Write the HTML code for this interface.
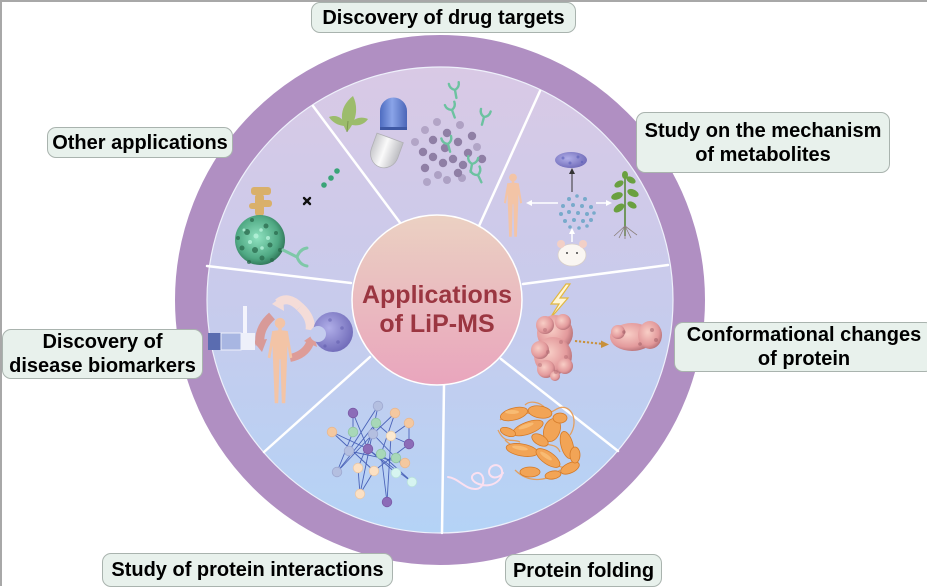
<!DOCTYPE html>
<html><head><meta charset="utf-8">
<style>
html,body{margin:0;padding:0;}
body{width:927px;height:586px;position:relative;overflow:hidden;background:#fff;font-family:"Liberation Sans",Arial,sans-serif;}
svg{position:absolute;left:0;top:0;}
.lb{position:absolute;box-sizing:border-box;background:#e8f1ec;border:1.3px solid #a9b3ae;border-radius:9px;font-weight:bold;font-size:20px;line-height:24px;color:#000;text-align:center;display:flex;flex-direction:column;justify-content:center;align-items:center;white-space:nowrap;}
</style></head><body>
<svg width="927" height="586" viewBox="0 0 927 586">
<defs>
  <linearGradient id="disk" x1="0" y1="0" x2="0" y2="1">
    <stop offset="0" stop-color="#d9c9e5"/>
    <stop offset="0.5" stop-color="#c8cbec"/>
    <stop offset="1" stop-color="#b4d3f6"/>
  </linearGradient>
  <linearGradient id="ctr" x1="0" y1="0" x2="0" y2="1">
    <stop offset="0" stop-color="#ebd1c2"/>
    <stop offset="1" stop-color="#e9a5bd"/>
  </linearGradient>
  <linearGradient id="blueCap" x1="0" y1="0" x2="1" y2="0">
    <stop offset="0" stop-color="#4e6cc0"/>
    <stop offset="0.45" stop-color="#8aa4e8"/>
    <stop offset="1" stop-color="#4b66b8"/>
  </linearGradient>
  <linearGradient id="whiteCap" x1="0" y1="0" x2="1" y2="0">
    <stop offset="0" stop-color="#c8c8cc"/>
    <stop offset="0.45" stop-color="#fafafa"/>
    <stop offset="1" stop-color="#bdbdc2"/>
  </linearGradient>
  <radialGradient id="greenBlob" cx="0.45" cy="0.45" r="0.6">
    <stop offset="0" stop-color="#8fe2c0"/>
    <stop offset="0.7" stop-color="#4fa883"/>
    <stop offset="1" stop-color="#2a6d50"/>
  </radialGradient>
  <radialGradient id="pinkBlob" cx="0.4" cy="0.4" r="0.65">
    <stop offset="0" stop-color="#f8cec6"/>
    <stop offset="0.7" stop-color="#e39a9c"/>
    <stop offset="1" stop-color="#b46f76"/>
  </radialGradient>
  <radialGradient id="purpBlob" cx="0.4" cy="0.4" r="0.65">
    <stop offset="0" stop-color="#b0aee8"/>
    <stop offset="1" stop-color="#6f6ab8"/>
  </radialGradient>
  <g id="human">
    <circle cx="0" cy="7" r="6"/>
    <rect x="-2" y="12" width="4" height="5"/>
    <path d="M-9,16 Q0,14 9,16 L8,48 L-8,48 Z"/>
    <path d="M-9,17 L-14,46 L-11,47 L-7,24 Z"/>
    <path d="M9,17 L14,46 L11,47 L7,24 Z"/>
    <path d="M-8,47 L-0.5,47 L-2,98 L-6,98 Z"/>
    <path d="M0.5,47 L8,47 L6,98 L2,98 Z"/>
  </g>
</defs>

<!-- frame -->
<line x1="0" y1="1" x2="927" y2="1" stroke="#a8a8a8" stroke-width="2"/>
<line x1="1" y1="0" x2="1" y2="586" stroke="#a8a8a8" stroke-width="2"/>

<!-- ring and disk -->
<circle cx="440" cy="300" r="249" fill="none" stroke="#b08fc2" stroke-width="32"/>
<circle cx="440" cy="300" r="233" fill="url(#disk)" stroke="#eef0fb" stroke-width="1.2"/>

<!-- dividers -->
<g stroke="#ffffff" stroke-width="2.5" stroke-linecap="round">
  <line x1="313" y1="106" x2="401" y2="224"/>
  <line x1="540" y1="91" x2="479" y2="226"/>
  <line x1="668" y1="265" x2="523" y2="284"/>
  <line x1="207" y1="266" x2="351" y2="283"/>
  <line x1="370" y1="357" x2="264" y2="452"/>
  <line x1="444" y1="385" x2="442" y2="533"/>
  <line x1="501" y1="359" x2="618" y2="451"/>
</g>

<!-- ===== Drug targets sector ===== -->
<g fill="#9cbc6c">
  <path d="M347,132 C339,120 340,106 353,96 C359,108 356,122 347,132Z"/>
  <path d="M346,126 C338,126 332,122 329,117 C337,114 343,118 346,126Z"/>
  <path d="M349,124 C355,118 361,116 368,119 C364,125 356,127 349,124Z"/>
</g>
<line x1="347" y1="132" x2="348" y2="121" stroke="#7a9650" stroke-width="1"/>
<path d="M380,130 L380,111 A13.5,13.5 0 0 1 407,111 L407,130 Z" fill="url(#blueCap)"/>
<rect x="380" y="127" width="27" height="3" fill="#3e58a4"/>
<g transform="rotate(20 385 152)">
  <path d="M371,137 L399,137 L399,153 A14,15 0 0 1 371,153 Z" fill="url(#whiteCap)" stroke="#b0b0b4" stroke-width="0.8"/>
</g>
<g fill="#8f7fa5">
  <circle cx="437" cy="122" r="4" opacity="0.5"/>
  <circle cx="460" cy="125" r="4" opacity="0.55"/>
  <circle cx="425" cy="130" r="4" opacity="0.5"/>
  <circle cx="447" cy="133" r="4.2"/>
  <circle cx="472" cy="136" r="4.2"/>
  <circle cx="415" cy="142" r="4" opacity="0.5"/>
  <circle cx="433" cy="140" r="4.2"/>
  <circle cx="458" cy="142" r="4.2"/>
  <circle cx="477" cy="147" r="4" opacity="0.5"/>
  <circle cx="423" cy="152" r="4.2"/>
  <circle cx="445" cy="148" r="4.2"/>
  <circle cx="468" cy="153" r="4.2"/>
  <circle cx="482" cy="159" r="4.2"/>
  <circle cx="433" cy="157" r="4.2"/>
  <circle cx="453" cy="159" r="4.2"/>
  <circle cx="425" cy="168" r="4.2"/>
  <circle cx="443" cy="163" r="4.2"/>
  <circle cx="463" cy="165" r="4.2"/>
  <circle cx="438" cy="175" r="4" opacity="0.55"/>
  <circle cx="458" cy="173" r="4.2"/>
  <circle cx="427" cy="182" r="4" opacity="0.5"/>
  <circle cx="447" cy="180" r="4" opacity="0.55"/>
  <circle cx="462" cy="178" r="4" opacity="0.55"/>
</g>
<g stroke="#6cc2a0" stroke-width="2.4" fill="none" stroke-linecap="round">
  <g transform="translate(455,90) rotate(-10)"><path d="M0,8 L0,0 M0,0 Q-5,-2 -5,-7 M0,0 Q5,-2 5,-7"/></g>
  <g transform="translate(452,110) rotate(-20)"><path d="M0,8 L0,0 M0,0 Q-5,-2 -5,-7 M0,0 Q5,-2 5,-7"/></g>
  <g transform="translate(484,117) rotate(15)"><path d="M0,8 L0,0 M0,0 Q-5,-2 -5,-7 M0,0 Q5,-2 5,-7"/></g>
  <g transform="translate(448,144) rotate(-15)"><path d="M0,8 L0,0 M0,0 Q-5,-2 -5,-7 M0,0 Q5,-2 5,-7"/></g>
  <g transform="translate(472,164) rotate(10)"><path d="M0,8 L0,0 M0,0 Q-5,-2 -5,-7 M0,0 Q5,-2 5,-7"/></g>
  <g transform="translate(478,175) rotate(-25)"><path d="M0,8 L0,0 M0,0 Q-5,-2 -5,-7 M0,0 Q5,-2 5,-7"/></g>
</g>

<!-- ===== Other applications sector ===== -->
<g fill="#d9b06a">
  <rect x="251" y="187" width="20" height="8" rx="3"/>
  <rect x="255" y="194" width="9" height="22" rx="3"/>
  <rect x="261" y="200" width="11" height="7" rx="3"/>
  <rect x="249" y="203" width="9" height="6" rx="3"/>
</g>
<circle cx="260" cy="240" r="25" fill="url(#greenBlob)"/>
<g fill="#2a6a4d" opacity="0.75">
  <circle cx="247" cy="232" r="3"/><circle cx="266" cy="226" r="2.5"/><circle cx="255" cy="250" r="3"/>
  <circle cx="270" cy="245" r="2.5"/><circle cx="242" cy="248" r="2.5"/><circle cx="262" cy="258" r="2.5"/>
  <circle cx="276" cy="233" r="2"/><circle cx="252" cy="220" r="2"/><circle cx="238" cy="238" r="2"/>
  <circle cx="280" cy="250" r="2"/><circle cx="249" cy="262" r="2"/><circle cx="272" cy="260" r="2"/>
</g>
<g fill="#b8f4dc" opacity="0.8">
  <circle cx="256" cy="236" r="2.5"/><circle cx="268" cy="238" r="2"/><circle cx="250" cy="242" r="2"/><circle cx="261" cy="230" r="1.8"/>
  <circle cx="262" cy="248" r="1.8"/><circle cx="244" cy="230" r="1.5"/>
</g>
<path d="M283,250 L297,257 M297,257 Q300,249 307,248 M297,257 Q300,265 307,266" stroke="#7ec8a8" stroke-width="3" fill="none" stroke-linecap="round"/>
<g stroke="#111" stroke-width="2.4" stroke-linecap="round">
  <line x1="304" y1="198" x2="310" y2="204"/><line x1="310" y1="198" x2="304" y2="204"/>
</g>
<g fill="#3aa478">
  <circle cx="324" cy="185" r="2.8"/><circle cx="331" cy="178" r="2.8"/><circle cx="337" cy="171" r="2.8"/>
</g>

<!-- ===== Metabolites sector ===== -->
<use href="#human" transform="translate(513,173) scale(0.65)" fill="#f3c4a6"/>
<ellipse cx="571" cy="160" rx="16" ry="8" fill="url(#purpBlob)"/>
<g fill="#5a5fb8" opacity="0.6"><circle cx="563" cy="158" r="1.5"/><circle cx="570" cy="163" r="1.5"/><circle cx="578" cy="157" r="1.5"/><circle cx="582" cy="162" r="1.2"/></g>
<line x1="572" y1="192" x2="572" y2="171" stroke="#333" stroke-width="1"/>
<path d="M569,174 L572,168 L575,174 Z" fill="#333"/>
<g fill="#78aacb">
  <circle cx="577" cy="196" r="1.8"/><circle cx="569" cy="199" r="2"/><circle cx="585" cy="199" r="2"/>
  <circle cx="563" cy="206" r="2"/><circle cx="573" cy="205" r="2"/><circle cx="582" cy="206" r="2"/><circle cx="591" cy="207" r="2"/>
  <circle cx="561" cy="214" r="2"/><circle cx="569" cy="212" r="2"/><circle cx="578" cy="213" r="2"/><circle cx="587" cy="214" r="2"/><circle cx="594" cy="213" r="1.8"/>
  <circle cx="565" cy="221" r="2"/><circle cx="574" cy="220" r="2"/><circle cx="583" cy="221" r="2"/><circle cx="591" cy="220" r="2"/>
  <circle cx="570" cy="227" r="1.8"/><circle cx="579" cy="228" r="1.8"/><circle cx="587" cy="226" r="1.8"/>
</g>
<g stroke="#ffffff" stroke-width="1.5" fill="#fff">
  <line x1="531" y1="203" x2="558" y2="203"/><path d="M526,203 L532,200 L532,206 Z" stroke="none"/>
  <line x1="596" y1="203" x2="607" y2="203"/><path d="M612,203 L606,200 L606,206 Z" stroke="none"/>
  <line x1="572" y1="242" x2="572" y2="232"/><path d="M572,228 L569,234 L575,234 Z" stroke="none"/>
</g>
<line x1="625" y1="236" x2="625" y2="174" stroke="#5a8a3a" stroke-width="1.6"/>
<g fill="#6aa040">
  <ellipse cx="619" cy="184" rx="5" ry="3" transform="rotate(-30 619 184)"/>
  <ellipse cx="631" cy="180" rx="5" ry="3" transform="rotate(30 631 180)"/>
  <ellipse cx="617" cy="196" rx="6" ry="3.5" transform="rotate(-20 617 196)"/>
  <ellipse cx="633" cy="193" rx="6" ry="3.5" transform="rotate(25 633 193)"/>
  <ellipse cx="619" cy="208" rx="6" ry="3.5" transform="rotate(-35 619 208)"/>
  <ellipse cx="632" cy="205" rx="5" ry="3" transform="rotate(30 632 205)"/>
  <ellipse cx="625" cy="175" rx="3" ry="4"/>
</g>
<g stroke="#8a7f7a" stroke-width="0.8" fill="none">
  <path d="M625,226 L614,236 M625,226 L619,238 M625,226 L625,239 M625,226 L631,238 M625,226 L637,235"/>
</g>
<ellipse cx="572" cy="255" rx="14" ry="11" fill="#faf6f2" stroke="#d8cfc8" stroke-width="0.8"/>
<circle cx="561" cy="244" r="4" fill="#f2cfc6"/><circle cx="583" cy="244" r="4" fill="#f2cfc6"/>
<circle cx="567" cy="253" r="1" fill="#444"/><circle cx="577" cy="253" r="1" fill="#444"/>

<!-- ===== Conformational changes sector ===== -->
<path d="M566,284 L551,304 L559,304 L549,320 L568,298 L560,298 L570,284 Z" fill="#fff6d8" stroke="#e2b840" stroke-width="1.2"/>
<g fill="url(#pinkBlob)">
  <circle cx="555" cy="333" r="18"/>
  <circle cx="545" cy="325" r="9"/>
  <circle cx="563" cy="322" r="8"/>
  <circle cx="553" cy="356" r="19"/>
  <circle cx="540" cy="350" r="9"/>
  <circle cx="546" cy="369" r="9"/>
  <circle cx="565" cy="366" r="8"/>
  <circle cx="555" cy="376" r="5"/>
</g>
<g fill="#b06870" opacity="0.45">
  <circle cx="545" cy="330" r="2"/><circle cx="561" cy="342" r="2"/><circle cx="548" cy="352" r="2"/><circle cx="566" cy="357" r="2"/><circle cx="540" cy="365" r="2"/><circle cx="556" cy="372" r="2"/>
</g>
<line x1="575" y1="341" x2="603" y2="344" stroke="#c8903a" stroke-width="2" stroke-dasharray="2.2,1.8"/>
<path d="M609,344.5 L601,340.5 L601,348 Z" fill="#c8903a"/>
<g fill="url(#pinkBlob)">
  <ellipse cx="632" cy="337" rx="22" ry="14"/>
  <ellipse cx="650" cy="335" rx="12" ry="14"/>
  <circle cx="618" cy="332" r="7"/>
</g>
<g fill="#9c5a62" opacity="0.5"><circle cx="652" cy="330" r="2"/><circle cx="656" cy="340" r="2"/><circle cx="640" cy="344" r="1.8"/><circle cx="624" cy="332" r="1.8"/></g>

<!-- ===== Biomarkers sector ===== -->
<path d="M300,307 Q288,295 278,303" stroke="#f4dcd8" stroke-width="9" fill="none"/>
<path d="M283,296 L272,304 L284,311 Z" fill="#f4dcd8"/>
<path d="M300,307 Q312,318 310,330" stroke="#f4dcd8" stroke-width="9" fill="none"/>
<path d="M272,316 Q258,328 260,345" stroke="#d89a98" stroke-width="9" fill="none"/>
<path d="M253,341 L262,352 L267,339 Z" fill="#d89a98"/>
<path d="M290,358 Q305,355 310,343" stroke="#dd9c98" stroke-width="8" fill="none"/>
<path d="M304,341 L314,334 L317,347 Z" fill="#dd9c98"/>
<rect x="243" y="306" width="4" height="27" fill="#f4f4fc"/>
<rect x="208" y="333" width="13" height="17" fill="#5a6cb0"/>
<rect x="221" y="333" width="20" height="17" fill="#a8b6e2" stroke="#eef0fb" stroke-width="1"/>
<rect x="241" y="333" width="14" height="17" fill="#eef0fa"/>
<use href="#human" transform="translate(280,317) scale(0.88)" fill="#f3c4a6"/>
<circle cx="333" cy="332" r="20" fill="url(#purpBlob)"/>
<circle cx="318" cy="334" r="8" fill="#c4ccee"/>
<g fill="#5a56a8" opacity="0.45"><circle cx="330" cy="320" r="1.8"/><circle cx="342" cy="328" r="1.8"/><circle cx="338" cy="342" r="1.8"/><circle cx="325" cy="346" r="1.6"/></g>

<!-- ===== Network ===== -->
<g stroke="#4a62b8" stroke-width="0.9">
  <line x1="353" y1="413" x2="368" y2="449"/>
  <line x1="353" y1="413" x2="353" y2="432"/>
  <line x1="378" y1="406" x2="349" y2="451"/>
  <line x1="378" y1="406" x2="360" y2="494"/>
  <line x1="395" y1="413" x2="381" y2="454"/>
  <line x1="395" y1="413" x2="373" y2="434"/>
  <line x1="409" y1="423" x2="391" y2="436"/>
  <line x1="332" y1="432" x2="368" y2="449"/>
  <line x1="332" y1="432" x2="374" y2="471"/>
  <line x1="353" y1="432" x2="337" y2="472"/>
  <line x1="376" y1="423" x2="391" y2="436"/>
  <line x1="376" y1="423" x2="358" y2="468"/>
  <line x1="373" y1="434" x2="396" y2="458"/>
  <line x1="391" y1="436" x2="409" y2="444"/>
  <line x1="391" y1="436" x2="387" y2="502"/>
  <line x1="409" y1="444" x2="374" y2="471"/>
  <line x1="349" y1="451" x2="405" y2="463"/>
  <line x1="368" y1="449" x2="396" y2="473"/>
  <line x1="368" y1="449" x2="412" y2="482"/>
  <line x1="381" y1="454" x2="412" y2="482"/>
  <line x1="396" y1="458" x2="405" y2="463"/>
  <line x1="358" y1="468" x2="360" y2="494"/>
  <line x1="374" y1="471" x2="360" y2="494"/>
  <line x1="337" y1="472" x2="376" y2="423"/>
  <line x1="381" y1="454" x2="387" y2="502"/>
  <line x1="409" y1="423" x2="409" y2="444"/>
  <line x1="373" y1="434" x2="337" y2="472"/>
</g>
<g stroke-width="0.8">
  <circle cx="353" cy="413" r="4.8" fill="#8c6cb8" stroke="#7a5aa6"/>
  <circle cx="378" cy="406" r="4.8" fill="#b4bfe0" stroke="#9ea8d0"/>
  <circle cx="395" cy="413" r="4.8" fill="#f4c8a0" stroke="#e8b890"/>
  <circle cx="409" cy="423" r="4.8" fill="#f4c8a0" stroke="#e8b890"/>
  <circle cx="332" cy="432" r="4.8" fill="#f4c8a0" stroke="#e8b890"/>
  <circle cx="353" cy="432" r="4.8" fill="#a8d8b8" stroke="#90c4a4"/>
  <circle cx="376" cy="423" r="4.8" fill="#a8d8b8" stroke="#90c4a4"/>
  <circle cx="373" cy="434" r="4.8" fill="#b4bfe0" stroke="#9ea8d0"/>
  <circle cx="391" cy="436" r="4.8" fill="#fbe8d0" stroke="#e8d0b0"/>
  <circle cx="409" cy="444" r="4.8" fill="#8c6cb8" stroke="#7a5aa6"/>
  <circle cx="349" cy="451" r="4.8" fill="#b4bfe0" stroke="#9ea8d0"/>
  <circle cx="368" cy="449" r="4.8" fill="#8c6cb8" stroke="#7a5aa6"/>
  <circle cx="381" cy="454" r="4.8" fill="#a8d8b8" stroke="#90c4a4"/>
  <circle cx="396" cy="458" r="4.8" fill="#a8d8b8" stroke="#90c4a4"/>
  <circle cx="405" cy="463" r="4.8" fill="#f4c8a0" stroke="#e8b890"/>
  <circle cx="358" cy="468" r="4.8" fill="#fbe0c4" stroke="#e8c8a8"/>
  <circle cx="374" cy="471" r="4.8" fill="#fbe0c4" stroke="#e8c8a8"/>
  <circle cx="396" cy="473" r="4.8" fill="#d6f4f0" stroke="#b8e0dc"/>
  <circle cx="412" cy="482" r="4.8" fill="#d6f4f0" stroke="#b8e0dc"/>
  <circle cx="337" cy="472" r="4.8" fill="#b4bfe0" stroke="#9ea8d0"/>
  <circle cx="360" cy="494" r="4.8" fill="#fbe0c4" stroke="#e8c8a8"/>
  <circle cx="387" cy="502" r="4.8" fill="#8c6cb8" stroke="#7a5aa6"/>
</g>

<!-- ===== Protein folding ===== -->
<g fill="none" stroke="#e89a50" stroke-width="1.3" opacity="0.9">
  <path d="M500,420 C515,405 540,420 555,410 C570,400 580,420 570,435"/>
  <path d="M505,440 C520,455 535,445 550,460 C565,475 580,465 575,450"/>
  <path d="M515,470 C530,485 550,480 560,470"/>
  <path d="M498,430 C505,445 512,438 520,442"/>
  <path d="M540,440 C548,448 556,442 560,452"/>
  <path d="M525,405 C530,400 540,402 545,408"/>
</g>
<g fill="#f2a456" stroke="#d47a28" stroke-width="0.8">
  <ellipse cx="514" cy="414" rx="14" ry="6" transform="rotate(-15 514 414)"/>
  <ellipse cx="540" cy="412" rx="12" ry="6" transform="rotate(10 540 412)"/>
  <ellipse cx="528" cy="428" rx="16" ry="6" transform="rotate(-20 528 428)"/>
  <ellipse cx="552" cy="430" rx="8" ry="12" transform="rotate(20 552 430)"/>
  <ellipse cx="522" cy="450" rx="16" ry="6" transform="rotate(10 522 450)"/>
  <ellipse cx="548" cy="458" rx="14" ry="6" transform="rotate(35 548 458)"/>
  <ellipse cx="567" cy="445" rx="6" ry="14" transform="rotate(-15 567 445)"/>
  <ellipse cx="570" cy="468" rx="10" ry="5" transform="rotate(-25 570 468)"/>
  <ellipse cx="530" cy="472" rx="10" ry="5"/>
  <ellipse cx="540" cy="440" rx="9" ry="5" transform="rotate(30 540 440)"/>
  <ellipse cx="560" cy="418" rx="7" ry="5"/>
  <ellipse cx="508" cy="432" rx="8" ry="4" transform="rotate(20 508 432)"/>
  <ellipse cx="553" cy="475" rx="8" ry="4" transform="rotate(-10 553 475)"/>
  <ellipse cx="575" cy="455" rx="5" ry="8"/>
</g>
<g fill="#fbc680" opacity="0.7">
  <ellipse cx="512" cy="412" rx="7" ry="2"/><ellipse cx="526" cy="426" rx="8" ry="2" transform="rotate(-20 526 426)"/>
  <ellipse cx="520" cy="448" rx="8" ry="2" transform="rotate(10 520 448)"/><ellipse cx="546" cy="456" rx="7" ry="2" transform="rotate(35 546 456)"/>
</g>
<path d="M448,477 C458,478 466,490 476,489 C488,488 484,468 474,474 C465,481 488,492 499,480 C507,470 498,461 491,467 C485,474 494,483 503,473" fill="none" stroke="#fbe0f0" stroke-width="2" stroke-linecap="round"/>

<!-- center -->
<circle cx="437" cy="300" r="85" fill="url(#ctr)" stroke="#ffffff" stroke-width="1.5"/>
<text x="437" y="303" text-anchor="middle" font-family="Liberation Sans, Arial, sans-serif" font-size="25" font-weight="bold" fill="#9b3641">Applications</text>
<text x="437" y="332" text-anchor="middle" font-family="Liberation Sans, Arial, sans-serif" font-size="25" font-weight="bold" fill="#9b3641">of LiP-MS</text>
</svg>

<div class="lb" style="left:311px;top:2px;width:265px;height:31px;">Discovery of drug targets</div>
<div class="lb" style="left:636px;top:112px;width:254px;height:61px;"><span>Study on the mechanism</span><span>of metabolites</span></div>
<div class="lb" style="left:47px;top:127px;width:186px;height:31px;">Other applications</div>
<div class="lb" style="left:2px;top:329px;width:201px;height:50px;"><span>Discovery of</span><span>disease biomarkers</span></div>
<div class="lb" style="left:674px;top:322px;width:260px;height:50px;"><span>Conformational changes</span><span>of protein</span></div>
<div class="lb" style="left:102px;top:553px;width:291px;height:34px;">Study of protein interactions</div>
<div class="lb" style="left:505px;top:554px;width:157px;height:33px;">Protein folding</div>
</body></html>
